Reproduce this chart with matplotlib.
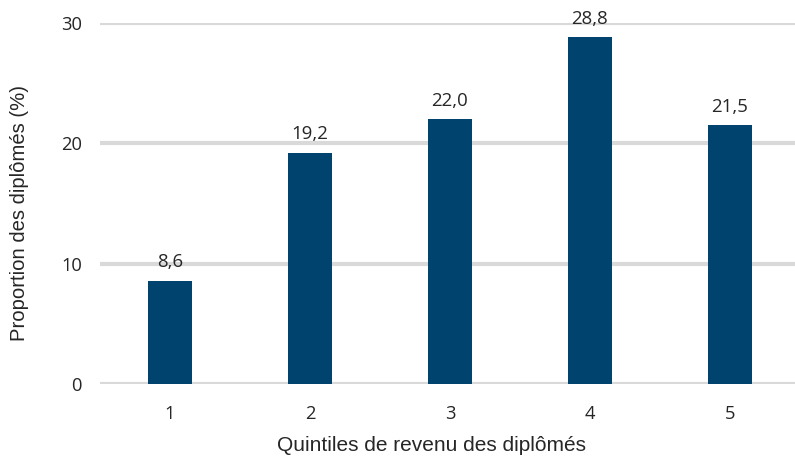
import matplotlib.pyplot as plt

quintiles = ['1', '2', '3', '4', '5']
proportions = [8.6, 19.2, 22.0, 28.8, 21.5]
y_ticks = [0, 10, 20, 30]

BAR_COLOR = '#00436e'
GRID_COLOR = '#d9d9d9'
TEXT_COLOR = '#262626'

fig = plt.figure(figsize=(7.95, 4.59), dpi=100)
ax = fig.add_axes([100 / 795, 1 - 384 / 459, 700 / 795, (384 - 23) / 459])

x = list(range(1, len(quintiles) + 1))
bars = ax.bar(x, proportions, width=0.314, color=BAR_COLOR, zorder=3)

# value on top of each bar, French decimal comma
for rect, val in zip(bars, proportions):
    ax.annotate(f'{val:.1f}'.replace('.', ','),
                (rect.get_x() + rect.get_width() / 2, rect.get_height()),
                xytext=(0, 7), textcoords='offset points',
                ha='center', va='bottom', fontsize=13.4,
                family='Open Sans', color=TEXT_COLOR, clip_on=False)

ax.set_xlim(0.5, 5.5)
ax.set_ylim(0, 30)
ax.set_xticks(x)
ax.set_xticklabels(quintiles)
ax.set_yticks(y_ticks)
for lab in ax.get_xticklabels() + ax.get_yticklabels():
    lab.set_family('Open Sans')
    lab.set_fontsize(13.2)
    lab.set_color(TEXT_COLOR)
ax.tick_params(length=0)
ax.tick_params(axis='x', pad=15)
ax.tick_params(axis='y', pad=13)

ax.grid(axis='y', color=GRID_COLOR, linewidth=3, zorder=0)
ax.set_axisbelow(True)
for s in ax.spines.values():
    s.set_visible(False)

ax.set_xlabel('Quintiles de revenu des diplômés', family='Liberation Sans',
              fontsize=15, color=TEXT_COLOR)
ax.set_ylabel('Proportion des diplômés (%)', family='Liberation Sans',
              fontsize=14.6, color=TEXT_COLOR)
ax.xaxis.set_label_coords(0.474, -0.145)
ax.yaxis.set_label_coords(-0.102, 0.474)

plt.savefig('out.png', dpi=100)
plt.close()
